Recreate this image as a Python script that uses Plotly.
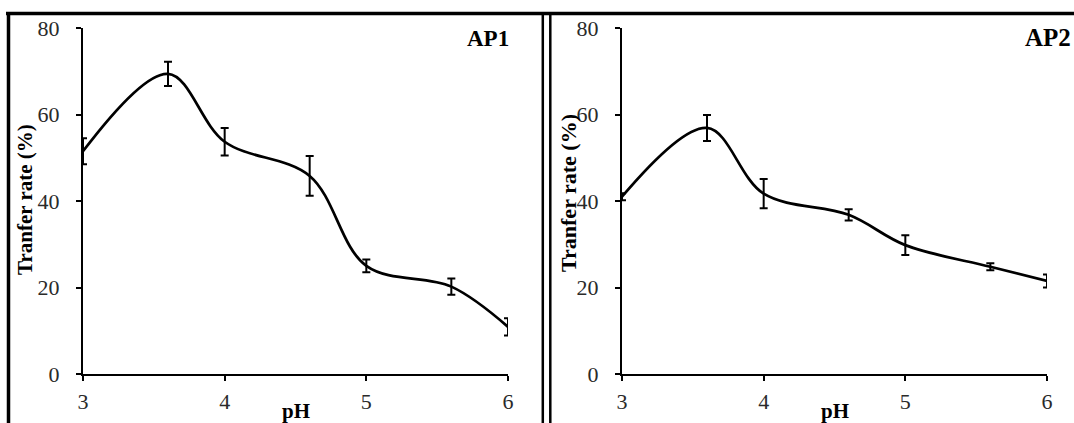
import plotly.graph_objects as go

W, H = 1074, 423

ph = [3, 3.6, 4, 4.6, 5, 5.6, 6]
ap1 = [51.5, 69.4, 53.7, 45.8, 25.0, 20.2, 10.9]
ap1_err = [3.0, 2.8, 3.2, 4.6, 1.5, 1.9, 2.0]
ap2 = [41.0, 56.9, 41.7, 36.8, 29.8, 24.8, 21.5]
ap2_err = [0.8, 3.0, 3.4, 1.3, 2.3, 0.8, 1.5]

x_ticks = [3, 4, 5, 6]
y_ticks = [0, 20, 40, 60, 80]

SERIF = "Liberation Serif, Times New Roman, serif"

def px_x(p):
    return p / W

def px_y(p):
    return (H - p) / H

fig = go.Figure()

for i, (vals, errs) in enumerate([(ap1, ap1_err), (ap2, ap2_err)]):
    sfx = "" if i == 0 else "2"
    fig.add_trace(go.Scatter(
        x=ph, y=vals, mode="lines",
        line=dict(color="black", width=2.7, shape="spline", smoothing=1.0),
        error_y=dict(type="data", array=errs, visible=True, color="black",
                     thickness=2, width=4),
        xaxis="x" + sfx, yaxis="y" + sfx, cliponaxis=False, showlegend=False,
    ))

axis_common = dict(
    showline=True, linecolor="black", linewidth=2, ticks="outside",
    ticklen=5, tickwidth=2, tickcolor="black", showgrid=False, zeroline=False,
    automargin=False,
    tickfont=dict(family=SERIF, size=22, color="#2a2a2a"),
)

ydom = [px_y(374), px_y(28)]
fig.update_layout(
    template="none",
    width=W, height=H, margin=dict(l=0, r=0, t=0, b=0, pad=0, autoexpand=False),
    paper_bgcolor="white", plot_bgcolor="white",
    xaxis=dict(domain=[px_x(83), px_x(508)], range=[3, 6], tickvals=x_ticks,
               anchor="y", ticklabelstandoff=2, **axis_common),
    yaxis=dict(domain=ydom, range=[0, 80], tickvals=y_ticks, anchor="x",
               ticklabelstandoff=12, **axis_common),
    xaxis2=dict(domain=[px_x(622), px_x(1047)], range=[3, 6], tickvals=x_ticks,
                anchor="y2", ticklabelstandoff=2, **axis_common),
    yaxis2=dict(domain=ydom, range=[0, 80], tickvals=y_ticks, anchor="x2",
                ticklabelstandoff=12, **axis_common),
)

def note(cx, cy, text, size, angle=0):
    return dict(x=px_x(cx), y=px_y(cy), xref="paper", yref="paper",
                xanchor="center", yanchor="middle", text=text, textangle=angle,
                showarrow=False, font=dict(family=SERIF, size=size, color="black"))

ann = [
    note(25, 200, "<b>Tranfer rate (%)</b>", 21, -90),
    note(568, 193, "<b>Tranfer rate (%)</b>", 22, -90),
    note(296, 411, "<b>pH</b>", 21),
    note(835, 411, "<b>pH</b>", 21),
    note(488, 38, "<b>AP1</b>", 23),
    note(1048, 37, "<b>AP2</b>", 25),
]
fig.update_layout(annotations=ann)

shapes = [
    dict(type="line", xref="paper", yref="paper", x0=px_x(6), x1=1.0,
         y0=px_y(13.5), y1=px_y(13.5), line=dict(color="black", width=3.5)),
    dict(type="line", xref="paper", yref="paper", x0=px_x(8.5), x1=px_x(8.5),
         y0=px_y(12), y1=0, line=dict(color="black", width=3.5)),
    dict(type="line", xref="paper", yref="paper", x0=px_x(542.8), x1=px_x(542.8),
         y0=px_y(12), y1=0, line=dict(color="black", width=2.5)),
    dict(type="line", xref="paper", yref="paper", x0=px_x(550.3), x1=px_x(550.3),
         y0=px_y(12), y1=0, line=dict(color="black", width=2.5)),
]
fig.update_layout(shapes=shapes)

fig.write_html("out.html")
